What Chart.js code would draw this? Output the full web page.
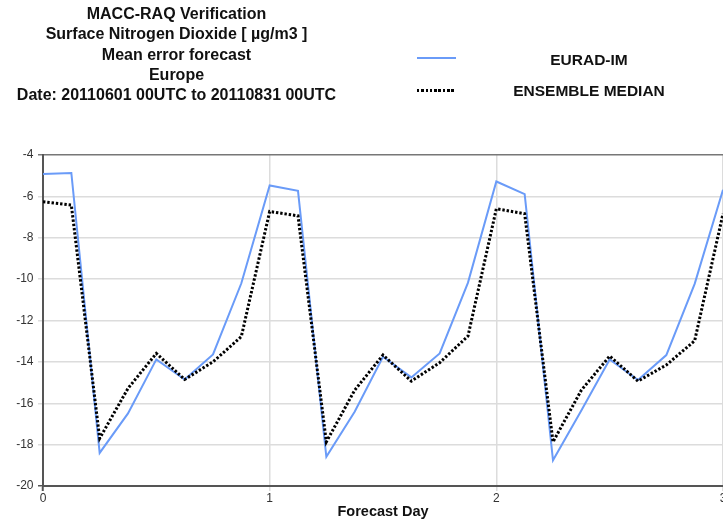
<!DOCTYPE html>
<html>
<head>
<meta charset="utf-8">
<script src="https://cdn.jsdelivr.net/npm/chart.js@4/dist/chart.umd.min.js"></script>
<style>
    body { margin: 0; background: #fff; font-family: "Liberation Sans", Arial, sans-serif; }
    #wrap { position: relative; width: 723px; height: 525px; overflow: hidden; }
    #chart { position: absolute; left: 0; top: 0; }
    .title { position: absolute; left: 0; width: 353px; top: 4px; text-align: center; font-weight: bold; font-size: 16px; line-height: 20.3px; color: #111; }
    .label { position: absolute; left: 489px; width: 200px; text-align: center; font-weight: bold; font-size: 15.5px; line-height: 18px; color: #111; white-space: nowrap; }
    .sample { position: absolute; left: 417px; width: 39px; }
</style>
</head>
<body>
<div id="wrap">
    <canvas id="chart" width="723" height="525"></canvas>
    <div class="title">MACC-RAQ Verification<br>Surface Nitrogen Dioxide [ µg/m3 ]<br>Mean error forecast<br>Europe<br>Date: 20110601 00UTC to 20110831 00UTC</div>
    <div class="sample" style="top: 57px; height: 2px; background: #6a9bf8;"></div>
    <div class="label" style="top: 51px;">EURAD-IM</div>
    <div class="sample" style="top: 89px; height: 3px; background: repeating-linear-gradient(to right, #000 0 2.5px, transparent 2.5px 4.3px);"></div>
    <div class="label" style="top: 81.5px;">ENSEMBLE MEDIAN</div>
</div>
<script>
const forecastDays = [0, 0.125, 0.25, 0.375, 0.5, 0.625, 0.75, 0.875,
    1, 1.125, 1.25, 1.375, 1.5, 1.625, 1.75, 1.875,
    2, 2.125, 2.25, 2.375, 2.5, 2.625, 2.75, 2.875, 3];

const euradIm = [-4.92, -4.87, -18.40, -16.49, -13.88, -14.85, -13.64, -10.20,
    -5.47, -5.73, -18.59, -16.41, -13.75, -14.75, -13.59, -10.17,
    -5.28, -5.89, -18.76, -16.35, -13.88, -14.88, -13.67, -10.23, -5.68];

const ensembleMedian = [-6.26, -6.42, -17.70, -15.28, -13.59, -14.85, -14.00, -12.78,
    -6.73, -6.94, -17.87, -15.37, -13.67, -14.93, -14.04, -12.75,
    -6.60, -6.84, -17.87, -15.37, -13.72, -14.93, -14.15, -12.98, -6.84];

const xMin = 0, xMax = 3, xStep = 1;
const yMin = -20, yMax = -4, yStep = 2;

const gridGrey = "#dcdcdc";
const axisGrey = "#555";

Chart.defaults.font.family = '"Liberation Sans", Arial, sans-serif';

const toPoints = (values) => values.map((v, i) => ({ x: forecastDays[i], y: v }));

const ctx = document.getElementById("chart");

new Chart(ctx, {
    type: "line",
    data: {
        datasets: [
            {
                label: "EURAD-IM",
                data: toPoints(euradIm),
                borderColor: "#6a9bf8",
                borderWidth: 2,
                pointRadius: 0,
                tension: 0,
                order: 1,
            },
            {
                label: "ENSEMBLE MEDIAN",
                data: toPoints(ensembleMedian),
                borderColor: "#000",
                borderWidth: 3,
                borderDash: [2.4, 1.9],
                borderCapStyle: "butt",
                pointRadius: 0,
                tension: 0,
                order: 0,
            },
        ],
    },
    options: {
        responsive: false,
        animation: false,
        layout: {
            padding: { top: 155, left: 0, right: 0, bottom: 0 },
        },
        plugins: {
            legend: { display: false },
            tooltip: { enabled: false },
        },
        scales: {
            x: {
                type: "linear",
                min: xMin,
                max: xMax,
                ticks: {
                    stepSize: xStep,
                    padding: 0,
                    color: "#333",
                    font: { size: 12 },
                },
                grid: {
                    drawTicks: true,
                    tickLength: 5,
                    lineWidth: 1.5,
                    color: (c) => (c.tick && c.tick.value === xMin ? "rgba(0,0,0,0)" : gridGrey),
                    tickColor: (c) => (c.tick && c.tick.value === xMin ? axisGrey : gridGrey),
                    tickWidth: (c) => (c.tick && c.tick.value === xMin ? 2 : 1.5),
                },
                border: { color: axisGrey, width: 2 },
                title: {
                    display: true,
                    text: "Forecast Day",
                    color: "#111",
                    font: { size: 14.5, weight: "bold" },
                    padding: { top: 0, bottom: 4.5 },
                },
                afterFit: (scale) => {
                    scale.height = 39;
                    scale.paddingLeft = 0;
                    scale.paddingRight = 0;
                },
            },
            y: {
                min: yMin,
                max: yMax,
                ticks: {
                    stepSize: yStep,
                    padding: 4.5,
                    color: "#333",
                    font: { size: 12 },
                },
                grid: {
                    drawTicks: true,
                    tickLength: 5,
                    lineWidth: 1.5,
                    color: (c) => {
                        if (!c.tick) return gridGrey;
                        if (c.tick.value === yMax) return "#777";
                        if (c.tick.value === yMin) return "rgba(0,0,0,0)";
                        return gridGrey;
                    },
                    tickColor: (c) => {
                        if (!c.tick) return gridGrey;
                        if (c.tick.value === yMax) return "#777";
                        if (c.tick.value === yMin) return axisGrey;
                        return gridGrey;
                    },
                },
                border: { color: axisGrey, width: 2 },
                afterFit: (scale) => {
                    scale.width = 43;
                },
            },
        },
    },
});
</script>
</body>
</html>
